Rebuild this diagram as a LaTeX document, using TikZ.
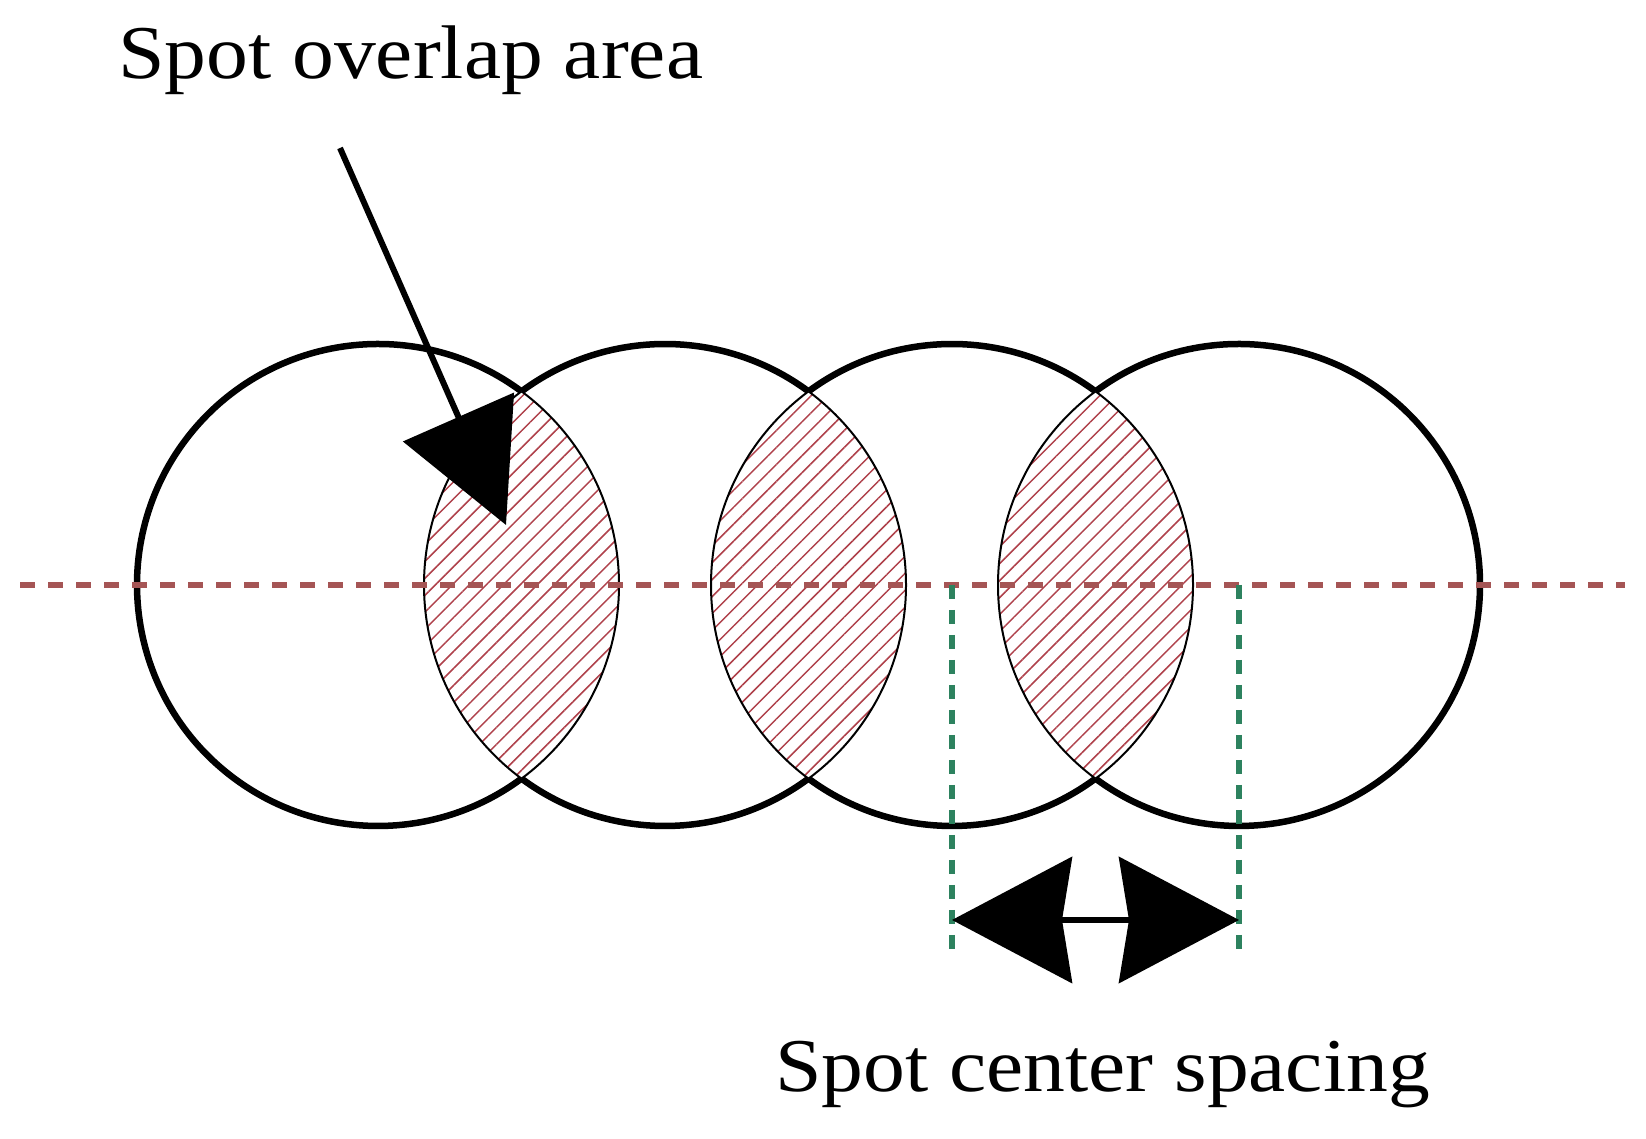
\documentclass[tikz,border=0pt]{standalone}
\usepackage{fontspec}
\setmainfont{Liberation Serif}[FakeStretch=1.1]
\usetikzlibrary{arrows.meta,patterns.meta}
\definecolor{axisred}{RGB}{165,85,85}
\definecolor{hatchred}{RGB}{175,65,75}
\definecolor{guidegreen}{RGB}{45,130,95}
\tikzset{
  spotline/.style={line width=6.5pt, black},
  lensborder/.style={line width=2pt, black},
  lensfill/.style={fill=white},
  lenshatch/.style={pattern={Lines[angle=45,distance=12pt,line width=1.5pt]}, pattern color=hatchred},
  axisline/.style={axisred, line width=6pt, dash pattern=on 15pt off 13pt},
  guideline/.style={guidegreen, line width=5.5pt, dash pattern=on 14pt off 11pt},
  pointer/.style={line width=6pt, -{Triangle[length=118pt,width=120pt]}},
  spanarrow/.style={line width=6pt, {Stealth[length=120pt,width=126pt,inset=10pt]}-{Stealth[length=120pt,width=126pt,inset=10pt]}},
  label/.style={inner sep=0pt, anchor=base west, font=\fontsize{76}{84}\selectfont}
}
\begin{document}
\begin{tikzpicture}[x=1pt,y=1pt]
\useasboundingbox[fill=white] (0,0) rectangle (1646,1139);
\def\R{241}
\def\T{53.46}
\coordinate (c1) at (378,554);
\coordinate (c2) at (665,554);
\coordinate (c3) at (952,554);
\coordinate (c4) at (1239,554);

% thick outer arcs of the spots
\draw[spotline] (c1) ++(\T:\R) arc[start angle=\T, end angle=360-\T, radius=\R];
\foreach \c in {c2,c3}{
  \draw[spotline] (\c) ++(\T:\R) arc[start angle=\T, end angle=180-\T, radius=\R];
  \draw[spotline] (\c) ++(180+\T:\R) arc[start angle=180+\T, end angle=360-\T, radius=\R];
}
\draw[spotline] (c4) ++(180-\T:\R) arc[start angle=180-\T, end angle=-180+\T, radius=\R];

% overlap lenses
\foreach \a/\b in {c1/c2,c2/c3,c3/c4}{
  \begin{scope}
    \clip (\a) circle[radius=\R];
    \fill[lensfill] (\b) circle[radius=\R];
    \fill[lenshatch] (\b) circle[radius=\R];
    \draw[lensborder] (\b) circle[radius=\R];
  \end{scope}
  \begin{scope}
    \clip (\b) circle[radius=\R];
    \draw[lensborder] (\a) circle[radius=\R];
  \end{scope}
}

% axis line
\coordinate (axL) at (20,554);
\coordinate (axR) at (1625,554);
\draw[axisline] (axL) -- (axR);

% guide lines
\coordinate (g3) at (952,179);
\coordinate (g4) at (1239,179);
\draw[guideline] (c3) -- (g3);
\draw[guideline] (c4) -- (g4);

% spacing arrow
\coordinate (s3) at (952,219);
\coordinate (s4) at (1239,219);
\draw[spanarrow] (s3) -- (s4);

% labels
\node[label] (overlap) at (118,1060) {Spot overlap area};
\node[label] (spacing) at (775,47) {Spot center spacing};

% pointer arrow
\coordinate (pstart) at (340,991);
\coordinate (ptip) at (506,614);
\draw[pointer] (pstart) -- (ptip);
\end{tikzpicture}
\end{document}
